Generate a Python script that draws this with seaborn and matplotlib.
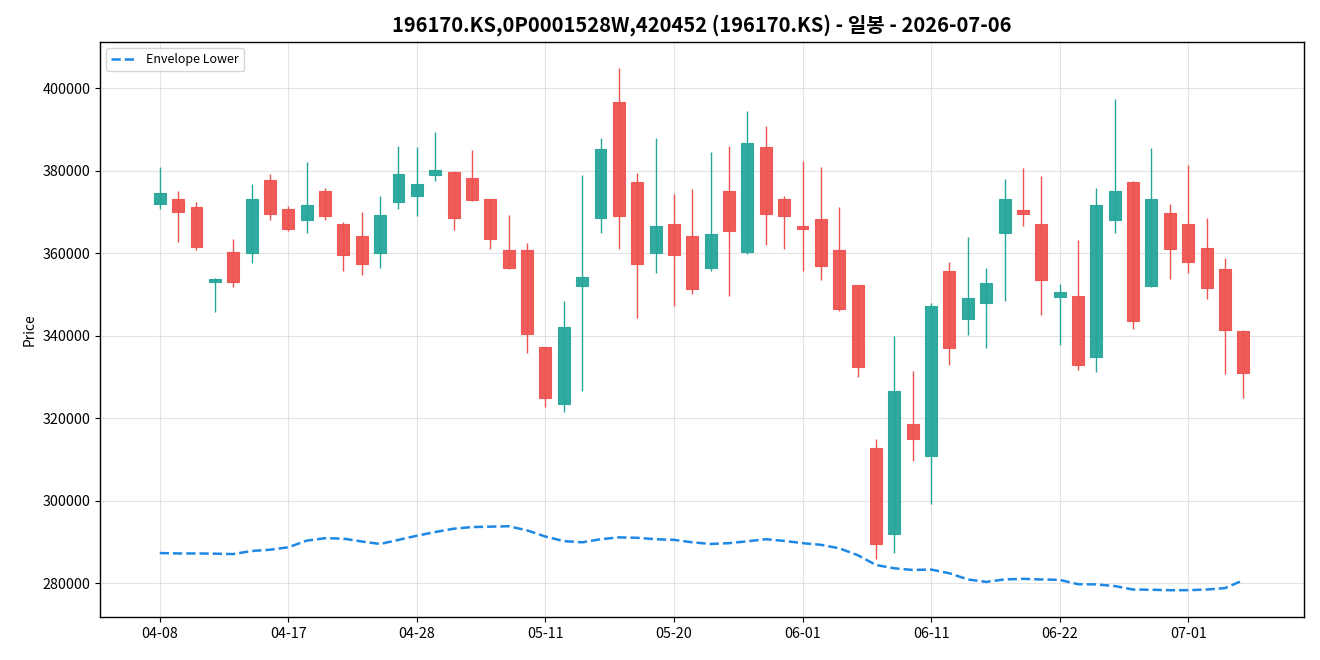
import numpy as np
import pandas as pd
import seaborn as sns
import matplotlib
matplotlib.use("Agg")
import matplotlib.pyplot as plt

dates = ["04-08", "04-09", "04-10", "04-13", "04-14", "04-15", "04-16", "04-17", "04-20", "04-21",
         "04-22", "04-23", "04-24", "04-27", "04-28", "04-29", "04-30", "05-04", "05-06", "05-07",
         "05-08", "05-11", "05-12", "05-13", "05-14", "05-15", "05-18", "05-19", "05-20", "05-21",
         "05-22", "05-26", "05-27", "05-28", "05-29", "06-01", "06-02", "06-04", "06-05", "06-08",
         "06-09", "06-10", "06-11", "06-12", "06-15", "06-16", "06-17", "06-18", "06-19", "06-22",
         "06-23", "06-24", "06-25", "06-26", "06-29", "06-30", "07-01", "07-02", "07-03", "07-06"]

opens = [372000, 373200, 371200, 352900, 360200, 360000, 377800, 370700, 368000, 375100,
         367000, 364100, 360000, 372400, 373800, 378900, 379800, 378200, 373100, 360700,
         360700, 337200, 323500, 352000, 368500, 396600, 377200, 360000, 367000, 364100,
         356400, 375000, 360400, 385700, 373100, 366500, 368200, 360700, 352200, 312700,
         292000, 318600, 310800, 355600, 344000, 347900, 364900, 370400, 367100, 349400,
         349600, 334800, 368000, 377200, 352000, 369700, 367000, 361200, 356100, 341100]
highs = [381000, 375000, 372500, 354100, 363500, 376700, 379100, 371500, 382000, 375700,
         367600, 370000, 373900, 386100, 385800, 389500, 380000, 385100, 373100, 369200,
         362500, 337300, 348400, 379000, 388000, 404900, 379400, 388000, 374400, 375600,
         384600, 386000, 394500, 390900, 373900, 382400, 380900, 371100, 352300, 315000,
         340000, 331500, 348000, 357900, 364000, 356400, 378100, 380600, 378600, 352600,
         363100, 375700, 397400, 377500, 385500, 372000, 381400, 368600, 358800, 341400]
lows = [370800, 362800, 360800, 345800, 351900, 357700, 368000, 365300, 364800, 368000,
        355700, 354800, 356300, 370800, 368900, 377400, 365700, 372700, 360900, 356200,
        335900, 322800, 321500, 326600, 364800, 360900, 344400, 355300, 347300, 350200,
        355800, 349700, 359900, 361900, 360900, 355700, 353400, 345900, 329900, 285800,
        287400, 309700, 299300, 332800, 340100, 336900, 348300, 366700, 344900, 337800,
        331800, 331300, 364800, 341700, 351800, 353800, 355300, 348800, 330800, 324800]
closes = [374600, 370000, 361500, 353700, 352900, 373200, 369500, 365900, 371700, 369000,
          359500, 357300, 369200, 379300, 376800, 380200, 368500, 372900, 363400, 356300,
          340400, 324900, 342100, 354200, 385200, 369000, 357300, 366500, 359500, 351400,
          364600, 365300, 386700, 369500, 369000, 365800, 356900, 346400, 332400, 289500,
          326500, 314900, 347200, 337000, 349100, 352700, 373200, 369500, 353500, 350600,
          332900, 371700, 375100, 343500, 373100, 361000, 357800, 351500, 341400, 330900]

envelope_lower = [287300, 287200, 287200, 287150, 287050, 287800, 288100, 288700, 290300, 290900,
                  290800, 290100, 289500, 290500, 291500, 292400, 293200, 293600, 293700, 293800,
                  292800, 291300, 290200, 289900, 290650, 291100, 291000, 290650, 290500, 289900,
                  289500, 289700, 290150, 290650, 290250, 289700, 289300, 288450, 286800, 284400,
                  283600, 283200, 283300, 282400, 280900, 280300, 280900, 281050, 280900, 280800,
                  279750, 279700, 279300, 278450, 278400, 278300, 278300, 278450, 278800, 280700]

df = pd.DataFrame({"date": dates, "open": opens, "high": highs, "low": lows,
                   "close": closes, "env_lower": envelope_lower})
df["idx"] = np.arange(len(df))
up = df["close"] >= df["open"]
green = "#26a69a"
red = "#ef5350"
colors = np.where(up, green, red)

sns.set_style("ticks")
plt.rcParams["font.family"] = ["Noto Sans CJK KR", "DejaVu Sans"]
plt.rcParams["text.color"] = "black"
plt.rcParams["axes.labelcolor"] = "black"
plt.rcParams["xtick.color"] = "black"
plt.rcParams["ytick.color"] = "black"

fig = plt.figure(figsize=(13.2, 6.6), dpi=100)
ax = fig.add_axes([0.0758, 0.065, 0.912, 0.871])

# wicks and bodies
ax.vlines(df["idx"], df["low"], df["high"], colors=colors, linewidth=1.0, zorder=2)
body_bottom = np.minimum(df["open"], df["close"])
body_height = np.abs(df["close"] - df["open"])
ax.bar(df["idx"], body_height, bottom=body_bottom, width=0.65, color=colors,
       edgecolor=colors, linewidth=0.8, alpha=0.95, zorder=3)

sns.lineplot(data=df, x="idx", y="env_lower", ax=ax, color="#1e88e5", linestyle="--",
             linewidth=1.8, label="Envelope Lower", zorder=4)

ax.set_xlim(-3.25, 62.3)
ax.set_ylim(271770, 411150)
ax.set_xticks(df["idx"][::7])
ax.set_xticklabels(df["date"][::7])
ax.grid(True, color="#dddddd", linewidth=0.8, alpha=0.8)
ax.set_axisbelow(True)
ax.set_xlabel("")
ax.set_ylabel("Price", fontsize=10)
ax.tick_params(labelsize=10.3)
for s in ax.spines.values():
    s.set_color("black")
    s.set_linewidth(1.0)
ax.set_title("196170.KS,0P0001528W,420452 (196170.KS) - 일봉 - 2026-07-06",
             fontsize=14.5, fontweight="bold", pad=8, color="black")
ax.legend(loc="upper left", fontsize=9, frameon=True)

fig.savefig("out.png", dpi=100)
